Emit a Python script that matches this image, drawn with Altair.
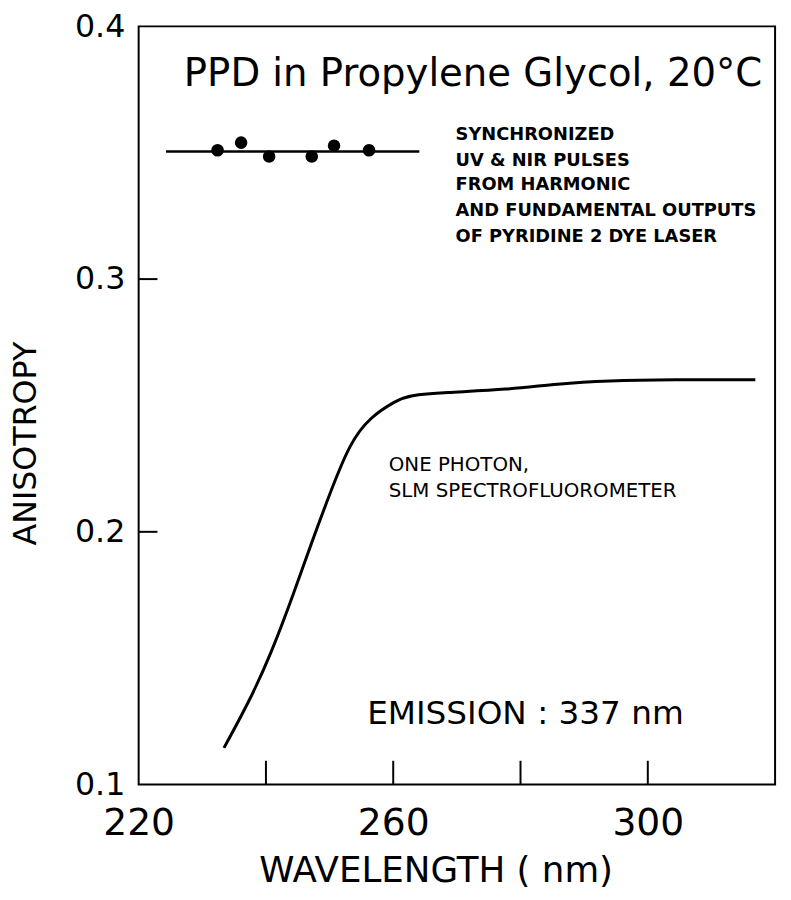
import altair as alt
import pandas as pd

# One-photon anisotropy spectrum (SLM spectrofluorometer)
curve_wl = [233.4, 237.2, 240.8, 244.5, 247.0, 250.1, 253.2, 256.3, 260.5, 262.5,
            267.8, 278.1, 285.8, 293.6, 304.0, 316.9]
curve_r = [0.1145, 0.132, 0.1516, 0.1766, 0.1945, 0.2156, 0.2352, 0.2453, 0.252, 0.254,
           0.2551, 0.2563, 0.2586, 0.2598, 0.2602, 0.2602]

# Synchronized UV & NIR pulses (points)
pts_wl = [232.4, 236.1, 240.5, 247.2, 250.7, 256.2]
pts_r = [0.351, 0.354, 0.3485, 0.3485, 0.3528, 0.351]

# mean level line
mean_wl = [224.3, 264.1]
mean_r = [0.3505, 0.3505]

x_labels = [220, 260, 300]
y_labels = [0.1, 0.2, 0.3, 0.4]
x_ticks = [240, 260, 280, 300]
y_ticks = [0.2, 0.3]

title_text = ["PPD in Propylene Glycol, 20°C"]
title_x = [227.1]
title_y = [0.381]

sync_text = ["SYNCHRONIZED", "UV & NIR PULSES", "FROM HARMONIC",
             "AND FUNDAMENTAL OUTPUTS", "OF PYRIDINE 2 DYE LASER"]
sync_x = [269.8] * 5
sync_y = [0.3570, 0.3469, 0.3371, 0.3270, 0.3168]

one_text = ["ONE PHOTON,", "SLM SPECTROFLUOROMETER"]
one_x = [259.3, 259.3]
one_y = [0.2266, 0.2160]

em_text = ["EMISSION : 337 nm"]
em_x = [255.9]
em_y = [0.1277]

W, H = 643, 766
FONT = "DejaVu Sans"

xs = alt.Scale(domain=[220, 320], nice=False, zero=False)
ys = alt.Scale(domain=[0.1, 0.4], nice=False, zero=False)

xaxis = alt.Axis(values=x_labels, ticks=False, domain=False, grid=False,
                 labelFontSize=38, labelFont=FONT, labelColor="black", labelPadding=20,
                 labelFlush=False,
                 title="WAVELENGTH ( nm)", titleFontSize=36, titleFont=FONT,
                 titleFontWeight="normal", titleColor="black", titlePadding=12,
                 titleX=300)
yaxis = alt.Axis(values=y_labels, format=".1f", ticks=False, domain=False, grid=False,
                 labelFontSize=32, labelFont=FONT, labelColor="black", labelPadding=14,
                 labelFlush=False,
                 title="ANISOTROPY", titleFontSize=32, titleFont=FONT,
                 titleFontWeight="normal", titleColor="black", titlePadding=32,
                 titleY=421)

curve_df = pd.DataFrame({"wl": curve_wl, "r": curve_r})
pts_df = pd.DataFrame({"wl": pts_wl, "r": pts_r})
mean_df = pd.DataFrame({"wl": mean_wl, "r": mean_r})

curve = alt.Chart(curve_df).mark_line(color="black", strokeWidth=3,
                                      interpolate="basis").encode(
    x=alt.X("wl:Q", scale=xs, axis=xaxis),
    y=alt.Y("r:Q", scale=ys, axis=yaxis),
)

mean_line = alt.Chart(mean_df).mark_line(color="black", strokeWidth=2.5).encode(
    x=alt.X("wl:Q", scale=xs), y=alt.Y("r:Q", scale=ys))

points = alt.Chart(pts_df).mark_point(filled=True, color="black", size=160,
                                      opacity=1, shape="circle").encode(
    x=alt.X("wl:Q", scale=xs), y=alt.Y("r:Q", scale=ys))

xt = alt.Chart(pd.DataFrame({"v": x_ticks})).mark_rule(color="black", strokeWidth=2).encode(
    x=alt.X("v:Q", scale=xs), y=alt.value(H - 24), y2=alt.value(H))
yt = alt.Chart(pd.DataFrame({"v": y_ticks})).mark_rule(color="black", strokeWidth=2).encode(
    y=alt.Y("v:Q", scale=ys), x=alt.value(0), x2=alt.value(19))


def text_layer(texts, xv, yv, size, weight="normal"):
    df = pd.DataFrame({"t": texts, "x": xv, "y": yv})
    return alt.Chart(df).mark_text(align="left", baseline="middle", fontSize=size,
                                   font=FONT, fontWeight=weight, color="black").encode(
        x=alt.X("x:Q", scale=xs), y=alt.Y("y:Q", scale=ys), text="t:N")


title_l = text_layer(title_text, title_x, title_y, 39)
sync_l = text_layer(sync_text, sync_x, sync_y, 18, "bold")
one_l = text_layer(one_text, one_x, one_y, 20)
em_l = text_layer(em_text, em_x, em_y, 33)

chart = alt.layer(curve, mean_line, points, xt, yt, title_l, sync_l, one_l, em_l).properties(
    width=W, height=H,
    background="white",
    autosize=alt.AutoSizeParams(type="none"),
    padding={"left": 132, "top": 14, "right": 8, "bottom": 104},
).configure_view(stroke="black", strokeWidth=2, strokeOpacity=1)

chart.save("out.html", embed_options={"renderer": "svg", "actions": False})
